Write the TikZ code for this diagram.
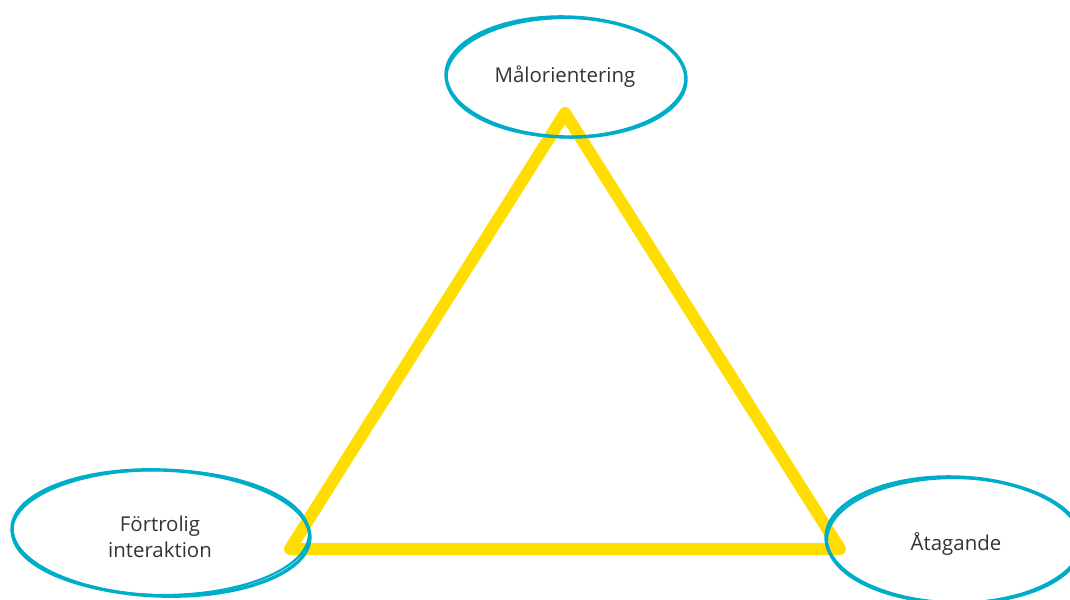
\documentclass[tikz,border=0pt]{standalone}
\usepackage{fontspec}
\setmainfont{Open Sans}
\begin{document}
\begin{tikzpicture}[x=1bp,y=-1bp,
  tri/.style={draw=triyellow,line width=12bp,line cap=round,line join=round},
  ring/.style={draw=ringblue,line width=3.4bp},
  ring2/.style={draw=ringblue,line width=2.2bp},
  lbl/.style={text=txtgray,font=\fontsize{20.5}{26}\selectfont,align=center,inner sep=0pt}]
\definecolor{triyellow}{HTML}{FFDD00}
\definecolor{ringblue}{HTML}{00ADC9}
\definecolor{txtgray}{HTML}{333333}
\useasboundingbox (0,0) rectangle (1070,600);
% triangle
\coordinate (A) at (565,113);
\coordinate (B) at (290,549);
\coordinate (C) at (840,549);
\draw[tri] (A) -- (B) -- (C) -- cycle;
% ellipses (hand drawn look)
\draw[ring] (566,77) ellipse [x radius=120, y radius=60, rotate=-1.5];
\draw[ring2] (566,77.5) ellipse [x radius=119.5, y radius=59.5, rotate=0];
\draw[ring] (161,533) ellipse [x radius=149, y radius=63, rotate=-2];
\draw[ring2] (160.5,532.5) ellipse [x radius=148.5, y radius=62.5, rotate=-0.5];
\draw[ring] (954,540) ellipse [x radius=128, y radius=63, rotate=-1.5];
\draw[ring2] (954.5,540.5) ellipse [x radius=127.5, y radius=62.5, rotate=0];
% labels
\node[lbl] (mal) at (565,77) {Målorientering};
\node[lbl] (fort) at (160,537) {Förtrolig\\interaktion};
\node[lbl] (ata) at (956,544) {Åtagande};
\end{tikzpicture}
\end{document}
